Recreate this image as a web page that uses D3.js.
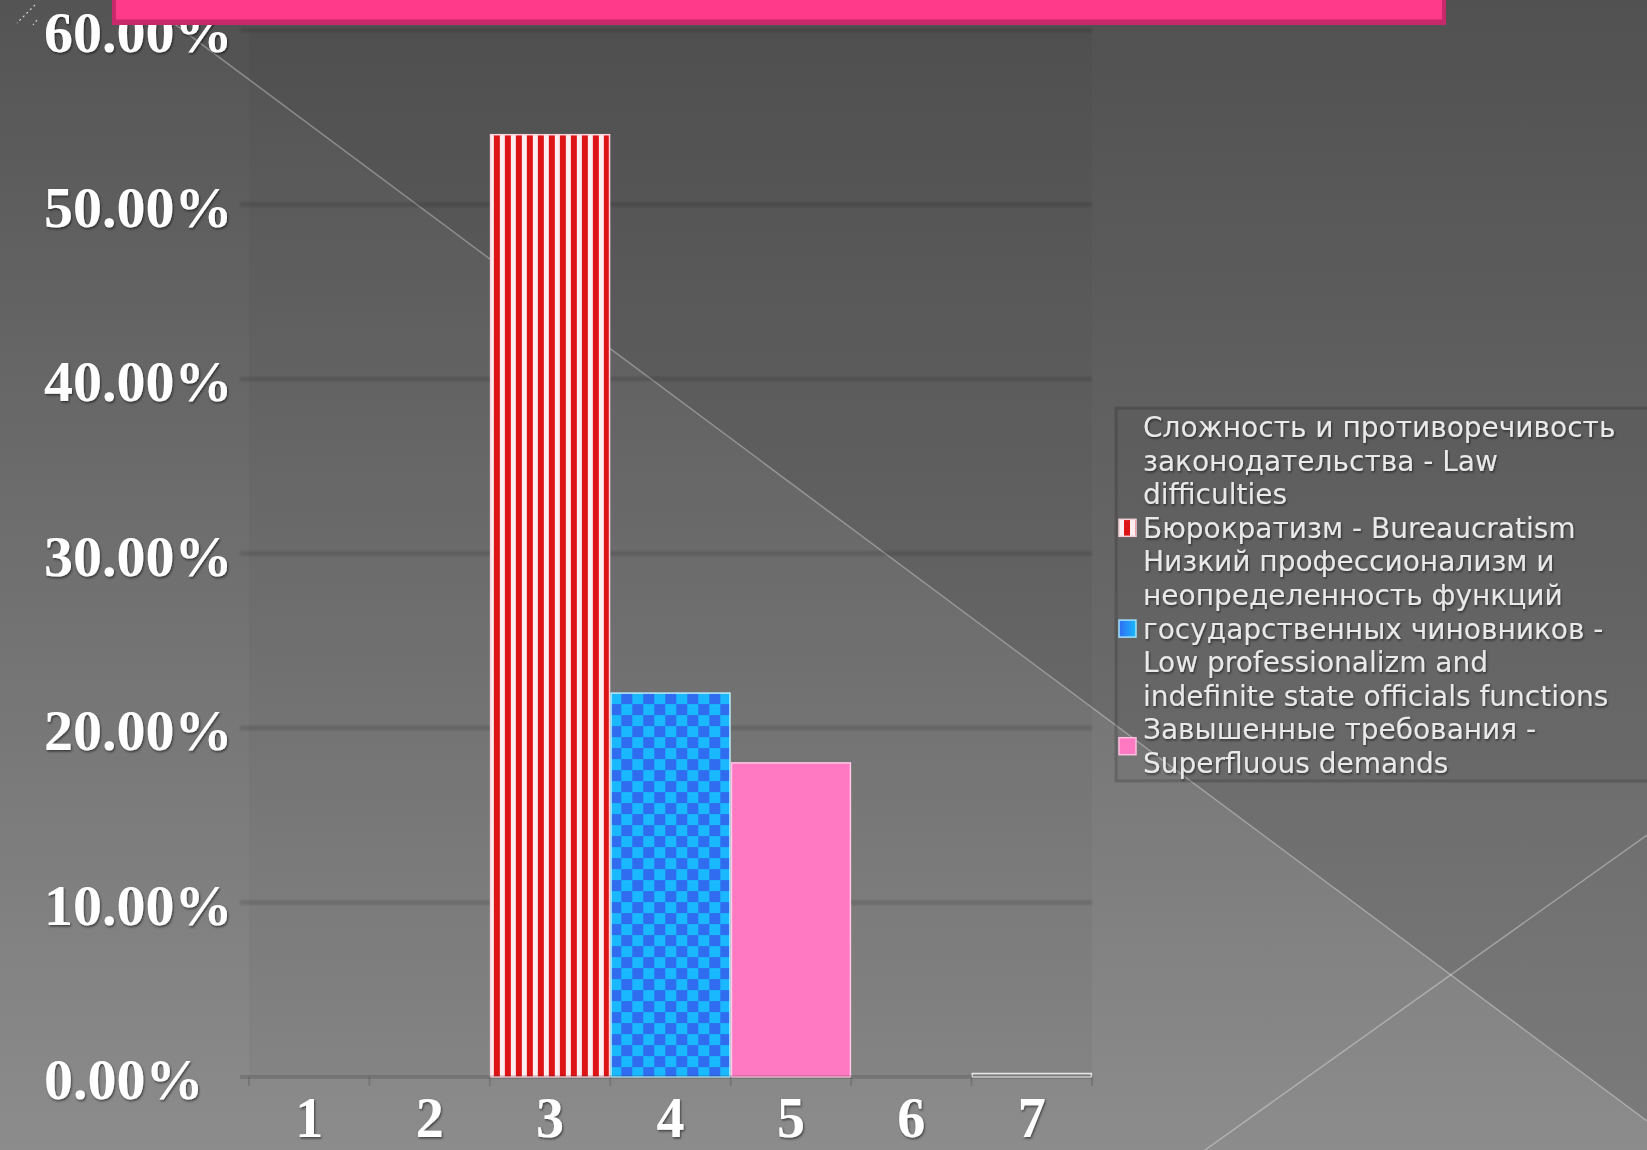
<!DOCTYPE html>
<html>
<head>
<meta charset="utf-8">
<script src="https://cdnjs.cloudflare.com/ajax/libs/d3/7.8.5/d3.min.js"></script>
<style>
  html, body { margin: 0; padding: 0; background: #5a5a5a; overflow: hidden; }
  svg { display: block; }
</style>
</head>
<body>
<script>
// ---------- DATA ----------
const categories = ["1", "2", "3", "4", "5", "6", "7"];
const seriesNames = [
  "Сложность и противоречивость законодательства - Law difficulties",
  "Бюрократизм - Bureaucratism",
  "Низкий профессионализм и неопределенность функций государственных чиновников - Low professionalizm and indefinite state officials functions",
  "Завышенные требования - Superfluous demands"
];
// values in percent, one per category
const lawDifficulties     = [0, 0, 0,  0,  0, 0, 0.2];
const bureaucratism       = [0, 0, 54, 0,  0, 0, 0];
const lowProfessionalism  = [0, 0, 0,  22, 0, 0, 0];
const superfluousDemands  = [0, 0, 0,  0,  18, 0, 0];
const yTicks = [0, 10, 20, 30, 40, 50, 60];
const legendLines = [
  ["Сложность и противоречивость", "законодательства - Law", "difficulties"],
  ["Бюрократизм - Bureaucratism"],
  ["Низкий профессионализм и", "неопределенность функций", "государственных чиновников -", "Low professionalizm and", "indefinite state officials functions"],
  ["Завышенные требования -", "Superfluous demands"]
];

// ---------- SETUP ----------
const W = 1647, H = 1150;
const svg = d3.select("body").append("svg").attr("width", W).attr("height", H);
const defs = svg.append("defs");

const x = d3.scaleBand().domain(categories).range([249, 1092]).padding(0);
const y = d3.scaleLinear().domain([0, 60]).range([1077, 30]);

// gradients
const g1 = defs.append("linearGradient").attr("id", "bgLow")
  .attr("gradientUnits", "userSpaceOnUse").attr("x1", 0).attr("y1", 0).attr("x2", 0).attr("y2", H);
g1.append("stop").attr("offset", 0).attr("stop-color", "#545454");
g1.append("stop").attr("offset", 1).attr("stop-color", "#8c8c8c");
const g2 = defs.append("linearGradient").attr("id", "bgHigh")
  .attr("gradientUnits", "userSpaceOnUse").attr("x1", 0).attr("y1", 0).attr("x2", 0).attr("y2", H);
g2.append("stop").attr("offset", 0).attr("stop-color", "#515151");
g2.append("stop").attr("offset", 1).attr("stop-color", "#7b7b7b");

// patterns
const stripe = defs.append("pattern").attr("id", "stripes")
  .attr("patternUnits", "userSpaceOnUse").attr("width", 11).attr("height", 11)
  .attr("x", x("3"));
stripe.append("rect").attr("width", 11).attr("height", 11).attr("fill", "#fdeef2");
stripe.append("rect").attr("x", 4).attr("width", 6).attr("height", 11).attr("fill", "#dc1416");

const check = defs.append("pattern").attr("id", "checker")
  .attr("patternUnits", "userSpaceOnUse").attr("width", 22).attr("height", 22)
  .attr("x", x("4")).attr("y", y(22));
check.append("rect").attr("width", 22).attr("height", 22).attr("fill", "#19b8ff");
check.append("rect").attr("x", 11).attr("width", 11).attr("height", 11).attr("fill", "#2f6cf0");
check.append("rect").attr("y", 11).attr("width", 11).attr("height", 11).attr("fill", "#2f6cf0");

const stripeSw = defs.append("pattern").attr("id", "stripesSw")
  .attr("patternUnits", "userSpaceOnUse").attr("width", 11).attr("height", 11).attr("x", 1120);
stripeSw.append("rect").attr("width", 11).attr("height", 11).attr("fill", "#fdeef2");
stripeSw.append("rect").attr("x", 4).attr("width", 6).attr("height", 11).attr("fill", "#dc1416");

const swBlue = defs.append("linearGradient").attr("id", "swBlue").attr("x1", 0).attr("x2", 1).attr("y1", 0).attr("y2", 0);
swBlue.append("stop").attr("offset", 0).attr("stop-color", "#2f6cf0");
swBlue.append("stop").attr("offset", 1).attr("stop-color", "#19b8ff");

const shadow = defs.append("filter").attr("id", "tshadow").attr("x", "-10%").attr("y", "-10%").attr("width", "120%").attr("height", "130%");
shadow.append("feDropShadow").attr("dx", 1).attr("dy", 1.5).attr("stdDeviation", 1.2)
  .attr("flood-color", "#000").attr("flood-opacity", 0.55);

const soft = defs.append("filter").attr("id", "soft").attr("x", "-5%").attr("y", "-50%").attr("width", "110%").attr("height", "200%");
soft.append("feGaussianBlur").attr("stdDeviation", 1.1);

// ---------- BACKGROUND ----------
svg.append("rect").attr("width", W).attr("height", H).attr("fill", "url(#bgLow)");
// decorative diagonal (line 1 passes (200,43) with slope 0.745)
const l1 = t => 43 + 0.745 * (t - 200);
const x0 = 200 - 43 / 0.745;
svg.append("path")
  .attr("d", `M${x0},0 L${W},${l1(W)} L${W},0 Z`)
  .attr("fill", "url(#bgHigh)");
svg.append("line").attr("x1", x0).attr("y1", 0).attr("x2", W).attr("y2", l1(W))
  .attr("stroke", "rgba(255,255,255,0.33)").attr("stroke-width", 1.5);
svg.append("line").attr("x1", 1205).attr("y1", H).attr("x2", W).attr("y2", 835)
  .attr("stroke", "rgba(255,255,255,0.33)").attr("stroke-width", 1.5);
// tiny dotted decoration top-left
svg.append("line").attr("x1", 35).attr("y1", 5).attr("x2", 17).attr("y2", 23)
  .attr("stroke", "rgba(255,255,255,0.75)").attr("stroke-width", 1.2).attr("stroke-dasharray", "2,3");
svg.append("line").attr("x1", 37).attr("y1", 20).attr("x2", 33).attr("y2", 25)
  .attr("stroke", "rgba(255,255,255,0.75)").attr("stroke-width", 1.2).attr("stroke-dasharray", "2,3");

// ---------- PLOT AREA ----------
svg.append("rect").attr("x", x.range()[0]).attr("y", y(60))
  .attr("width", x.range()[1] - x.range()[0]).attr("height", y(0) - y(60))
  .attr("fill", "rgba(0,0,0,0.03)");

// gridlines
svg.append("g").attr("filter", "url(#soft)").selectAll("line").data(yTicks.filter(d => d > 0)).join("line")
  .attr("x1", x.range()[0] - 9).attr("x2", x.range()[1])
  .attr("y1", d => y(d)).attr("y2", d => y(d))
  .attr("stroke", "rgba(0,0,0,0.12)").attr("stroke-width", 5);

// y axis line
svg.append("line").attr("x1", x.range()[0]).attr("x2", x.range()[0])
  .attr("y1", y(60) - 2).attr("y2", y(0))
  .attr("stroke", "rgba(0,0,0,0.09)").attr("stroke-width", 5).attr("filter", "url(#soft)");

// bars
const seriesData = [lawDifficulties, bureaucratism, lowProfessionalism, superfluousDemands];
const fills = ["#8e8e8e", "url(#stripes)", "url(#checker)", "#ff78c2"];
const strokes = ["#e6e6e6", "#ffd6de", "#b8ecff", "#ffc9e6"];
const bars = [];
seriesData.forEach((arr, si) => arr.forEach((v, ci) => { if (v > 0) bars.push({ si, cat: categories[ci], v }); }));
svg.append("g").selectAll("rect").data(bars).join("rect")
  .attr("x", d => x(d.cat) + 0.75)
  .attr("y", d => y(d.v))
  .attr("width", x.bandwidth() - 1.5)
  .attr("height", d => Math.max(2.5, y(0) - y(d.v)))
  .attr("fill", d => fills[d.si])
  .attr("stroke", d => strokes[d.si])
  .attr("stroke-width", 1.5);

// x axis baseline + ticks
svg.append("line").attr("x1", x.range()[0] - 9).attr("x2", x.range()[1])
  .attr("y1", y(0)).attr("y2", y(0))
  .attr("stroke", "rgba(0,0,0,0.13)").attr("stroke-width", 4);
const bounds = categories.map(c => x(c)).concat([x.range()[1]]);
svg.append("g").selectAll("line").data(bounds).join("line")
  .attr("x1", d => d).attr("x2", d => d).attr("y1", y(0)).attr("y2", y(0) + 9)
  .attr("stroke", "rgba(0,0,0,0.13)").attr("stroke-width", 2);

// y labels
const fmt = d => d3.format(".2f")(d) + "%";
svg.append("g").selectAll("text").data(yTicks).join("text")
  .attr("x", 44).attr("y", d => y(d) + 22)
  .attr("font-family", "'Liberation Serif', 'Times New Roman', serif")
  .attr("font-weight", "bold").attr("font-size", 58)
  .attr("fill", "#ffffff").attr("filter", "url(#tshadow)")
  .text(fmt);

// x labels
svg.append("g").selectAll("text").data(categories).join("text")
  .attr("x", d => x(d) + x.bandwidth() / 2).attr("y", 1137)
  .attr("text-anchor", "middle")
  .attr("font-family", "'Liberation Serif', 'Times New Roman', serif")
  .attr("font-weight", "bold").attr("font-size", 56)
  .attr("fill", "#ffffff").attr("filter", "url(#tshadow)")
  .text(d => d);

// ---------- LEGEND ----------
const lg = svg.append("g");
lg.append("rect").attr("x", 1116).attr("y", 408).attr("width", 560).attr("height", 373)
  .attr("fill", "rgba(0,0,0,0.03)").attr("stroke", "rgba(0,0,0,0.16)").attr("stroke-width", 3);
const lineH = 33.6, base0 = 437;
let li = 0;
const swFills = ["none", "url(#stripesSw)", "url(#swBlue)", "#ff78c2"];
const swStrokes = ["none", "#f0d0d6", "#9fe2ff", "#ffc0e0"];
legendLines.forEach((lines, si) => {
  const first = li;
  lines.forEach(t => {
    lg.append("text").attr("x", 1143).attr("y", base0 + li * lineH)
      .attr("font-family", "'DejaVu Sans', Verdana, sans-serif").attr("font-size", 28)
      .attr("fill", "#e9e9e9").attr("filter", "url(#tshadow)").text(t);
    li++;
  });
  const cy = base0 + ((first + li - 1) / 2) * lineH - 10;
  lg.append("rect").attr("x", 1119).attr("y", cy - 8.5).attr("width", 17).attr("height", 17)
    .attr("fill", swFills[si]).attr("stroke", swStrokes[si]).attr("stroke-width", 1.5);
});

// ---------- TITLE BAR (cut off at top) ----------
svg.append("rect").attr("x", 112).attr("y", -10).attr("width", 1334).attr("height", 35).attr("fill", "#c8296b");
svg.append("rect").attr("x", 116).attr("y", -10).attr("width", 1326).attr("height", 29.5).attr("fill", "#ff3a8b");
</script>
</body>
</html>
